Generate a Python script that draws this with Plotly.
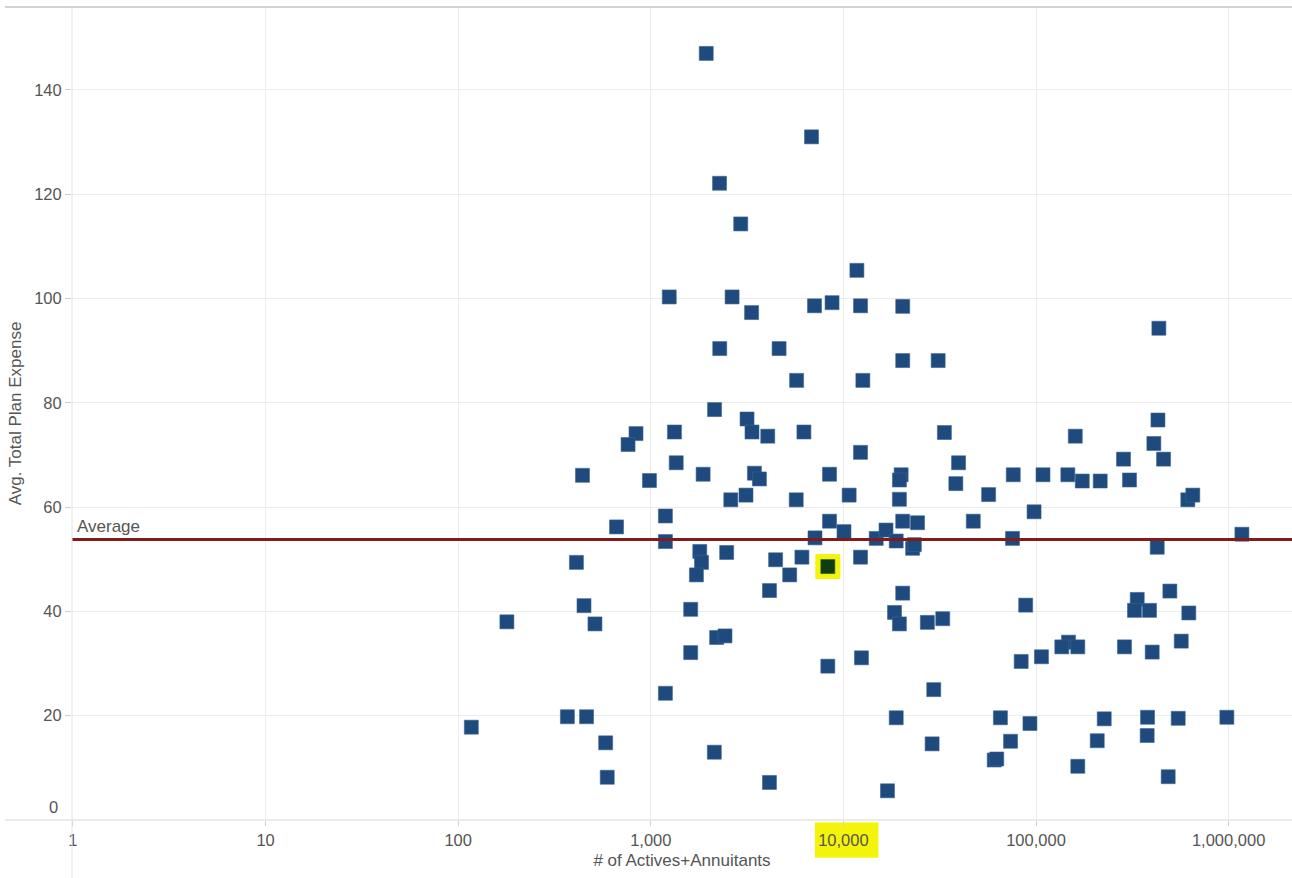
import plotly.graph_objects as go

# ---- data ----
members = [838, 762, 442, 984, 664, 411, 450, 513, 179, 369, 464, 117, 583, 594,
           1940, 6830, 2275, 2930, 11750, 1247, 2643, 3337, 7080, 8730, 12270,
           2280, 4636, 5715, 12620, 2143, 3160,
           1327, 3352, 4048, 6237, 1355, 1869, 3451, 3664, 8471, 12270,
           2602, 3120, 5688, 10710, 1191, 1191, 8471, 10070, 7121,
           1796, 2477, 1833, 1725, 4447, 6090, 5262, 4131, 12270,
           1611, 2197, 2428, 1611, 8300, 12410, 1191, 2137, 4131,
           20320, 20320, 31040, 33440, 39620, 19940, 19530, 38350, 76170, 108700,
           19530, 56750, 97700, 20320, 24260, 47230, 14800, 16640, 18800, 22870,
           23350, 75500, 20320, 18420, 19530, 27280, 32790, 88370, 83730, 106700,
           29450, 18800, 65330, 92990, 28880, 73750, 60670, 62550, 16940,
           434400, 429600, 159900, 409100, 459300, 284600, 146300, 173800, 215400,
           305700, 614000, 651700, 1172000, 425800, 495300, 335300, 324500, 388300,
           621300, 147500, 136100, 164800, 287900, 401000, 567500, 226000, 379300,
           547300, 979000, 207900, 377700, 164800, 485500]

expense = [74.1, 72.0, 66.1, 65.1, 56.2, 49.4, 41.1, 37.6, 38.0, 19.8, 19.8, 17.8, 14.8, 8.2,
           147.0, 131.0, 122.1, 114.3, 105.4, 100.3, 100.3, 97.3, 98.6, 99.2, 98.6,
           90.4, 90.4, 84.3, 84.3, 78.7, 76.9,
           74.4, 74.4, 73.6, 74.4, 68.5, 66.3, 66.5, 65.4, 66.3, 70.5,
           61.4, 62.3, 61.4, 62.3, 58.3, 53.4, 57.3, 55.3, 54.1,
           51.5, 51.3, 49.4, 47.0, 49.9, 50.4, 47.0, 44.0, 50.4,
           40.4, 35.0, 35.3, 32.1, 29.5, 31.1, 24.3, 13.0, 7.2,
           98.5, 88.1, 88.1, 74.3, 68.5, 66.2, 65.2, 64.5, 66.2, 66.2,
           61.5, 62.4, 59.1, 57.3, 57.0, 57.3, 54.0, 55.6, 53.5, 52.1,
           52.8, 54.0, 43.5, 39.8, 37.6, 37.9, 38.6, 41.2, 30.4, 31.3,
           25.0, 19.6, 19.6, 18.5, 14.6, 15.1, 11.5, 11.7, 5.6,
           94.3, 76.7, 73.6, 72.2, 69.2, 69.2, 66.2, 65.0, 65.0,
           65.2, 61.4, 62.3, 54.8, 52.3, 43.9, 42.3, 40.2, 40.2,
           39.7, 34.1, 33.2, 33.2, 33.2, 32.2, 34.3, 19.4, 19.7,
           19.5, 19.7, 15.2, 16.2, 10.3, 8.3]

highlight_members = [8300]
highlight_expense = [48.6]
average_expense = 53.8

x_tickvals = [1, 10, 100, 1000, 10000, 100000, 1000000]
x_ticktext = ["1", "10", "100", "1,000", "10,000", "100,000", "1,000,000"]
y_tickvals = [20, 40, 60, 80, 100, 120, 140]

FONT = "Liberation Sans, Arial, sans-serif"
TXT = "#555555"
TICK_SIZE = 16.5
TITLE_SIZE = 17

fig = go.Figure()

fig.add_trace(go.Scatter(
    x=members, y=expense, mode="markers",
    marker=dict(symbol="square", size=14, color="#1f4a7e",
                line=dict(width=0.6, color="#3a6496")),
    hoverinfo="x+y", showlegend=False))

# yellow highlight halo + highlighted mark
fig.add_trace(go.Scatter(
    x=highlight_members, y=highlight_expense, mode="markers",
    marker=dict(symbol="square", size=25, color="#f4f40a", line=dict(width=0)),
    hoverinfo="skip", showlegend=False))
fig.add_trace(go.Scatter(
    x=highlight_members, y=highlight_expense, mode="markers",
    marker=dict(symbol="square", size=14, color="#0d3d12",
                line=dict(width=0.6, color="#1e5a22")),
    showlegend=False))

shapes = [
    # average reference line
    dict(type="line", xref="paper", x0=0, x1=1, yref="y",
         y0=average_expense, y1=average_expense,
         line=dict(color="#821c1c", width=3)),
    # top border
    dict(type="line", xref="paper", x0=-0.055, x1=1, yref="paper", y0=1, y1=1,
         line=dict(color="#d2d2d2", width=2)),
    # bottom axis line
    dict(type="line", xref="paper", x0=-0.055, x1=1, yref="paper", y0=0, y1=0,
         line=dict(color="#d8d8d8", width=1)),
    # left pane divider
    dict(type="line", xref="paper", x0=0, x1=0, yref="paper", y0=-0.072, y1=1,
         line=dict(color="#e2e2e2", width=1)),
    # yellow highlight behind the 10,000 tick label
    dict(type="rect", xref="paper", x0=0.609, x1=0.661, yref="paper",
         y0=-0.0465, y1=-0.003, fillcolor="#f4f40a", line=dict(width=0),
         layer="below"),
]

annotations = [
    dict(text="Average", xref="paper", x=0, xshift=3, xanchor="left",
         yref="y", y=average_expense, yanchor="bottom", yshift=1,
         showarrow=False, font=dict(family=FONT, size=TITLE_SIZE, color=TXT)),
    dict(text="0", xref="paper", x=0, xshift=-12, xanchor="right",
         yref="y", y=0, yshift=13, yanchor="middle",
         showarrow=False, font=dict(family=FONT, size=TICK_SIZE, color=TXT)),
]

fig.update_layout(
    width=1292, height=878,
    margin=dict(l=72, r=0, t=7, b=58),
    plot_bgcolor="white", paper_bgcolor="white",
    font=dict(family=FONT, size=TICK_SIZE, color=TXT),
    shapes=shapes, annotations=annotations,
    xaxis=dict(type="log", range=[-0.005, 6.329],
               tickvals=x_tickvals, ticktext=x_ticktext,
               showgrid=True, gridcolor="#ececec", gridwidth=1,
               zeroline=False, showline=False,
               ticks="outside", ticklen=5, tickcolor="#d0d0d0",
               tickfont=dict(family=FONT, size=TICK_SIZE, color=TXT),
               title=dict(text="# of Actives+Annuitants", standoff=6,
                          font=dict(family=FONT, size=TITLE_SIZE, color=TXT))),
    yaxis=dict(range=[0, 155.9], tickvals=y_tickvals,
               showgrid=True, gridcolor="#ececec", gridwidth=1,
               zeroline=False, showline=False,
               ticks="outside", ticklen=6, tickcolor="#d0d0d0",
               tickfont=dict(family=FONT, size=TICK_SIZE, color=TXT),
               title=dict(text="Avg. Total Plan Expense", standoff=8,
                          font=dict(family=FONT, size=TITLE_SIZE, color=TXT))),
)

fig.write_html("out.html", config={"displayModeBar": False},
               post_script="document.body.style.margin='0px';document.body.style.overflow='hidden';")
